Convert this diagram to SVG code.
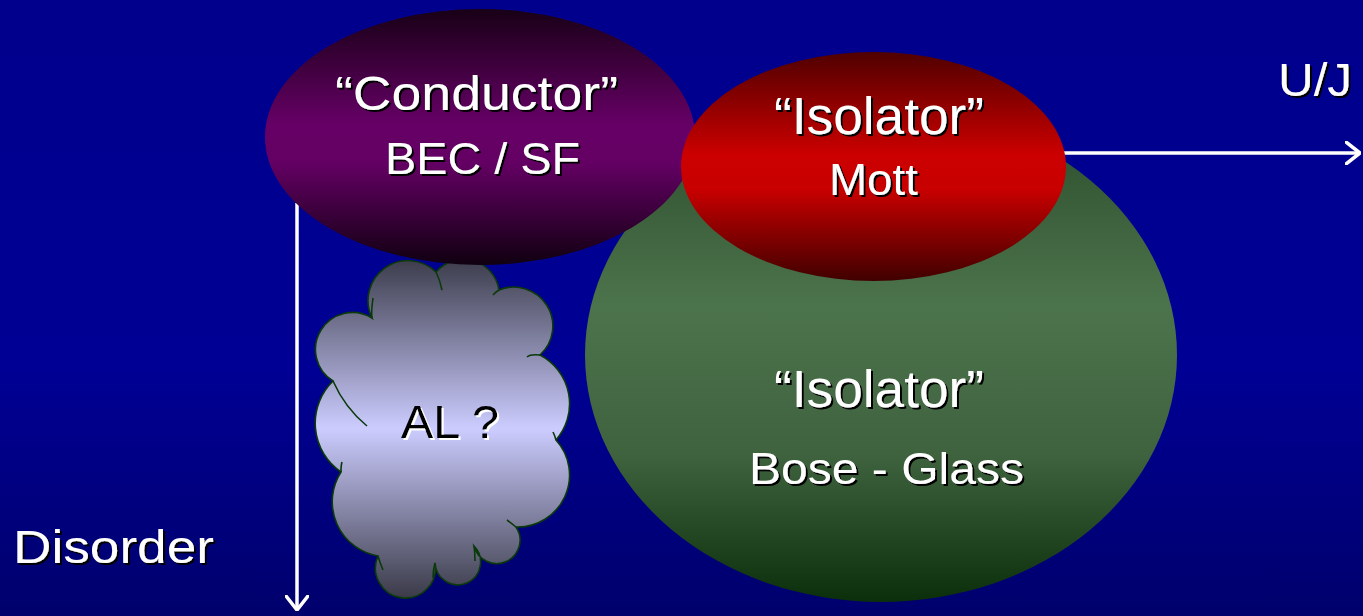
<svg xmlns="http://www.w3.org/2000/svg" width="1363" height="616" viewBox="0 0 1363 616">
  <defs>
    <linearGradient id="bg" x1="0" y1="0" x2="0" y2="1">
      <stop offset="0" stop-color="#00008c"/>
      <stop offset="0.6" stop-color="#000094"/>
      <stop offset="1" stop-color="#00006c"/>
    </linearGradient>
    <linearGradient id="gPurple" x1="0" y1="0" x2="0" y2="1">
      <stop offset="0" stop-color="#180016"/>
      <stop offset="0.45" stop-color="#660066"/>
      <stop offset="0.6" stop-color="#640064"/>
      <stop offset="1" stop-color="#100010"/>
    </linearGradient>
    <linearGradient id="gRed" x1="0" y1="0" x2="0" y2="1">
      <stop offset="0" stop-color="#500000"/>
      <stop offset="0.45" stop-color="#cc0000"/>
      <stop offset="0.6" stop-color="#c80000"/>
      <stop offset="1" stop-color="#400000"/>
    </linearGradient>
    <linearGradient id="gGreen" x1="0" y1="0" x2="0" y2="1">
      <stop offset="0" stop-color="#2a4a2a"/>
      <stop offset="0.4" stop-color="#4c744c"/>
      <stop offset="0.7" stop-color="#3f623f"/>
      <stop offset="1" stop-color="#0b2e0b"/>
    </linearGradient>
    <linearGradient id="gCloud" x1="0" y1="0" x2="0" y2="1">
      <stop offset="0" stop-color="#3c3c4c"/>
      <stop offset="0.5" stop-color="#ccccff"/>
      <stop offset="1" stop-color="#3a3a48"/>
    </linearGradient>
    <filter id="shDark" x="-10%" y="-20%" width="130%" height="150%">
      <feDropShadow dx="2" dy="2" stdDeviation="0.4" flood-color="#000000" flood-opacity="1"/>
    </filter>
    <filter id="shLight" x="-10%" y="-20%" width="130%" height="150%">
      <feDropShadow dx="2" dy="2" stdDeviation="0.4" flood-color="#ffffff" flood-opacity="1"/>
    </filter>
    <marker id="head" viewBox="0 0 16 24" refX="15" refY="12" markerWidth="16" markerHeight="24" markerUnits="userSpaceOnUse" orient="auto">
      <path d="M1,1 L15,12 L1,23" fill="none" stroke="#ffffff" stroke-width="3.5" stroke-linecap="round" stroke-linejoin="miter"/>
    </marker>
  </defs>
  <style>
    text { font-family: "Liberation Sans", Arial, sans-serif; }
    .lbl { fill: #ffffff; filter: url(#shDark); }
    .dark { fill: #000000; filter: url(#shLight); }
    .axis { stroke: #ffffff; stroke-width: 3.5; fill: none; marker-end: url(#head); }
    .crease { fill: none; stroke: #0a3a0a; stroke-width: 1.6; }
  </style>

  <rect x="0" y="0" width="1363" height="616" fill="url(#bg)"/>

  <!-- axes -->
  <g id="connectors">
    <line class="axis" x1="297" y1="203" x2="297" y2="610"/>
    <line class="axis" x1="1064" y1="153" x2="1360" y2="153"/>
  </g>

  <!-- Bose glass region -->
  <g id="bose-glass">
    <ellipse cx="881" cy="355" rx="296" ry="247" fill="url(#gGreen)"/>
    <text class="lbl" x="774" y="407" font-size="51" textLength="210" lengthAdjust="spacingAndGlyphs">“Isolator”</text>
    <text class="lbl" x="749" y="484" font-size="45" textLength="275" lengthAdjust="spacingAndGlyphs">Bose - Glass</text>
  </g>

  <!-- Anderson localisation cloud -->
  <g id="anderson">
    <path fill="url(#gCloud)" stroke="#0a3a0a" stroke-width="1.6"
      d="M372,318 A40,40 0 0 1 436,272 A36,36 0 0 1 499,290 A39,39 0 0 1 540,355 A55,55 0 0 1 556,440 A52,52 0 0 1 516,527 A23.4,23.4 0 1 1 474,546 A22.8,22.8 0 1 1 435,563 A30,30 0 1 1 378,556 A55,55 0 0 1 341,472 A59,59 0 0 1 333,381 A37,37 0 0 1 372,318 Z"/>
    <path class="crease" d="M372,318 Q371,312 373,298"/>
    <path class="crease" d="M436,272 Q440,280 442,290"/>
    <path class="crease" d="M499,290 Q497,291 493,295"/>
    <path class="crease" d="M540,355 Q530,354 527,357"/>
    <path class="crease" d="M556,440 Q555,436 553,432"/>
    <path class="crease" d="M516,527 Q511,523 507,520"/>
    <path class="crease" d="M474,546 Q475,553 475,561"/>
    <path class="crease" d="M435,563 Q433,570 433,578"/>
    <path class="crease" d="M378,556 Q380,563 383,570"/>
    <path class="crease" d="M341,472 Q341,465 342,462"/>
    <path class="crease" d="M333,381 Q345,408 367,426"/>
    <text class="dark" x="401" y="438" font-size="46" textLength="98" lengthAdjust="spacingAndGlyphs">AL ?</text>
  </g>

  <!-- superfluid region -->
  <g id="conductor">
    <ellipse cx="480" cy="137" rx="215" ry="128" fill="url(#gPurple)"/>
    <text class="lbl" x="335" y="110" font-size="49" textLength="283" lengthAdjust="spacingAndGlyphs">“Conductor”</text>
    <text class="lbl" x="385" y="174" font-size="44" textLength="195" lengthAdjust="spacingAndGlyphs">BEC / SF</text>
  </g>

  <!-- Mott insulator region -->
  <g id="mott">
    <ellipse cx="873.5" cy="166.5" rx="192.5" ry="114.5" fill="url(#gRed)"/>
    <text class="lbl" x="774" y="134" font-size="51" textLength="210" lengthAdjust="spacingAndGlyphs">“Isolator”</text>
    <text class="lbl" x="829" y="195" font-size="45" textLength="89" lengthAdjust="spacingAndGlyphs">Mott</text>
  </g>

  <!-- axis labels -->
  <g id="label-disorder">
    <text class="lbl" x="13" y="563" font-size="47" textLength="201" lengthAdjust="spacingAndGlyphs">Disorder</text>
  </g>
  <g id="label-uj">
    <text class="lbl" x="1278" y="96" font-size="47" textLength="74" lengthAdjust="spacingAndGlyphs">U/J</text>
  </g>
</svg>
